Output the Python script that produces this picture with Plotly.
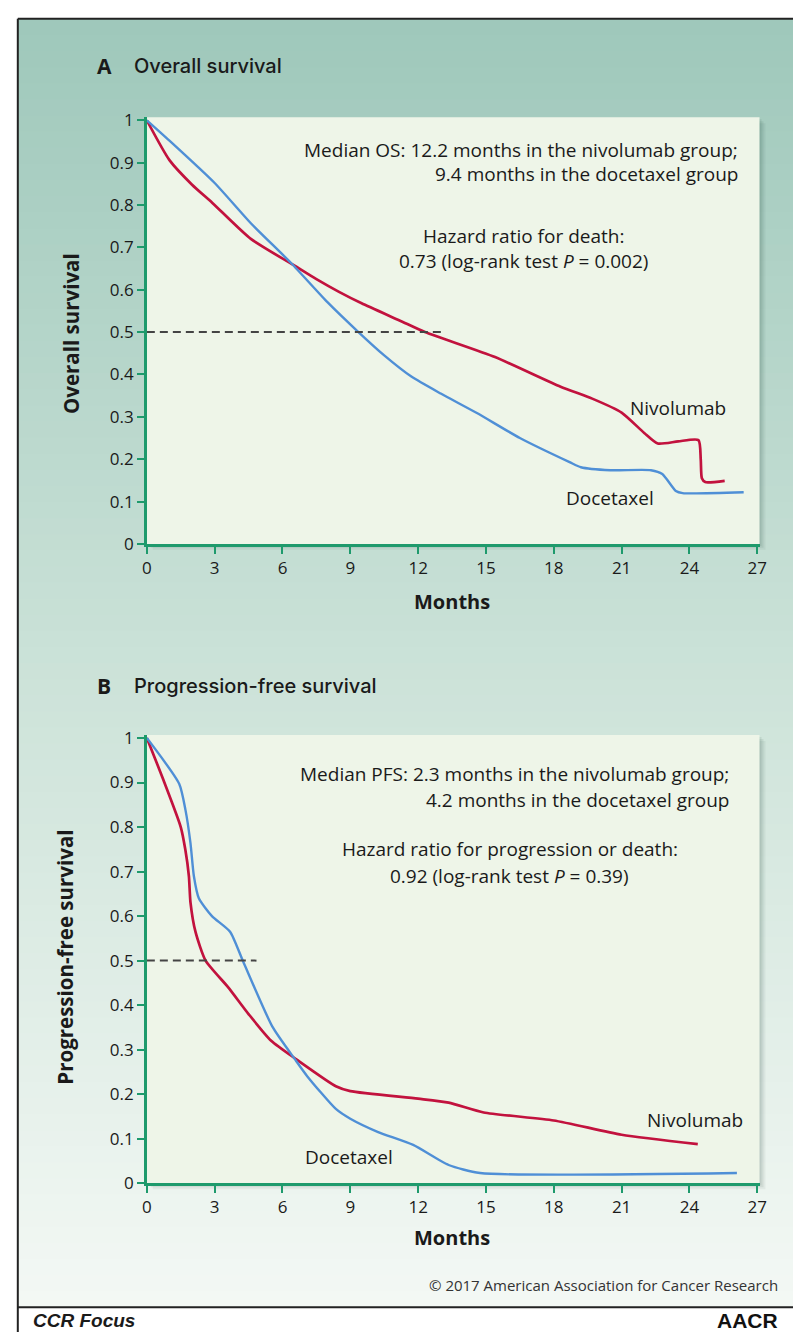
import plotly.graph_objects as go

# ---------------- data ----------------
os_niv_months = [0, 1.0, 2.0, 2.9, 4.6, 6.5, 7.5, 8.5, 9.5, 11.2, 12.3, 15.4, 18.3, 19.7, 21.0, 22.0, 22.6, 23.5, 24.4, 24.5, 24.55, 24.7, 25.56]
os_niv_surv = [1.0, 0.906, 0.848, 0.805, 0.72, 0.658, 0.625, 0.595, 0.568, 0.527, 0.50, 0.441, 0.371, 0.343, 0.31, 0.262, 0.237, 0.242, 0.245, 0.20, 0.155, 0.146, 0.149]

os_doc_months = [0, 1.0, 3.0, 4.6, 6.4, 8.0, 9.3, 10.5, 11.7, 13.0, 14.6, 16.5, 18.7, 19.2, 20.5, 22.3, 22.8, 23.4, 23.7, 26.4]
os_doc_surv = [1.0, 0.952, 0.852, 0.757, 0.662, 0.57, 0.503, 0.445, 0.395, 0.355, 0.309, 0.25, 0.193, 0.181, 0.174, 0.174, 0.165, 0.125, 0.12, 0.122]

pfs_niv_months = [0, 0.7, 1.5, 1.7, 1.86, 1.93, 2.15, 2.6, 3.6, 4.5, 5.5, 6.65, 8.36, 9.0, 12.0, 13.35, 14.9, 18.0, 21.0, 24.37]
pfs_niv_surv = [1.0, 0.91, 0.80, 0.75, 0.69, 0.631, 0.565, 0.50, 0.44, 0.38, 0.32, 0.277, 0.218, 0.207, 0.19, 0.181, 0.159, 0.141, 0.109, 0.088]

pfs_doc_months = [0, 1.43, 1.71, 1.93, 2.08, 2.3, 2.88, 3.68, 4.26, 5.56, 6.57, 7.1, 8.36, 9.0, 10.23, 11.78, 13.35, 14.74, 26.1]
pfs_doc_surv = [1.0, 0.897, 0.838, 0.764, 0.69, 0.64, 0.60, 0.565, 0.498, 0.351, 0.277, 0.24, 0.167, 0.145, 0.115, 0.086, 0.041, 0.023, 0.023]

os_median_x = [0, 13.1]
pfs_median_x = [0, 4.85]
median_y = [0.5, 0.5]

x_ticks = [0, 3, 6, 9, 12, 15, 18, 21, 24, 27]
y_ticks = [0, 0.1, 0.2, 0.3, 0.4, 0.5, 0.6, 0.7, 0.8, 0.9, 1.0]
y_tick_labels = ["0", "0.1", "0.2", "0.3", "0.4", "0.5", "0.6", "0.7", "0.8", "0.9", "1"]

# ---------------- styling ----------------
W, H = 800, 1343
RED = "#c2123e"
BLUE = "#4f8fd6"
GREEN = "#1e9a6c"
TXT = "#1a1a1a"
FONT = "Open Sans"


def px(x):
    return x / W


def py(y):
    return 1 - y / H


fig = go.Figure()

fig.add_trace(go.Scatter(x=os_niv_months, y=os_niv_surv, mode="lines",
                         line=dict(color=RED, width=2.7, shape="spline", smoothing=0.6),
                         xaxis="x", yaxis="y", hoverinfo="skip"))
fig.add_trace(go.Scatter(x=os_doc_months, y=os_doc_surv, mode="lines",
                         line=dict(color=BLUE, width=2.4, shape="spline", smoothing=0.6),
                         xaxis="x", yaxis="y", hoverinfo="skip"))
fig.add_trace(go.Scatter(x=os_median_x, y=median_y, mode="lines",
                         line=dict(color="#444", width=2, dash="8px,5px"),
                         xaxis="x", yaxis="y", hoverinfo="skip"))

fig.add_trace(go.Scatter(x=pfs_niv_months, y=pfs_niv_surv, mode="lines",
                         line=dict(color=RED, width=2.7, shape="spline", smoothing=0.6),
                         xaxis="x2", yaxis="y2", hoverinfo="skip"))
fig.add_trace(go.Scatter(x=pfs_doc_months, y=pfs_doc_surv, mode="lines",
                         line=dict(color=BLUE, width=2.4, shape="spline", smoothing=0.6),
                         xaxis="x2", yaxis="y2", hoverinfo="skip"))
fig.add_trace(go.Scatter(x=pfs_median_x, y=median_y, mode="lines",
                         line=dict(color="#444", width=2, dash="8px,5px"),
                         xaxis="x2", yaxis="y2", hoverinfo="skip"))

# ---------------- background shapes ----------------
shapes = []
top_c = (159, 200, 187)
mid_c = (203, 226, 216)
bot_c = (243, 248, 244)
y0, y1 = 10, 1318
n = 80
for i in range(n):
    t = i / (n - 1)
    if t < 0.5:
        u = t / 0.5
        c = [round(top_c[k] + (mid_c[k] - top_c[k]) * u) for k in range(3)]
    else:
        u = (t - 0.5) / 0.5
        c = [round(mid_c[k] + (bot_c[k] - mid_c[k]) * u) for k in range(3)]
    ya = y0 + (y1 - y0) * i / n
    yb = y0 + (y1 - y0) * (i + 1) / n + 0.8
    shapes.append(dict(type="rect", xref="paper", yref="paper", layer="below",
                       x0=px(13), x1=1.0, y0=py(min(yb, y1)), y1=py(ya),
                       fillcolor="rgb(%d,%d,%d)" % tuple(c), line=dict(width=0)))

plot_boxes = [(144, 110, 766, 543), (144, 737, 766, 1192)]
for (l, t, r, b) in plot_boxes:
    for off, a in [(6, 0.05), (4, 0.07), (2, 0.08)]:
        shapes.append(dict(type="rect", xref="paper", yref="paper", layer="below",
                           x0=px(l + off), x1=px(r + off), y0=py(b + off), y1=py(t + off),
                           fillcolor="rgba(0,40,30,%.2f)" % a, line=dict(width=0)))
    shapes.append(dict(type="rect", xref="paper", yref="paper", layer="below",
                       x0=px(l), x1=px(r), y0=py(b), y1=py(t),
                       fillcolor="#eef5e8", line=dict(width=0)))

# frame lines
for (xa, ya_, xb, yb_) in [(13, 10, 13, 1343), (13, 10, 800, 10), (13, 1318, 800, 1318)]:
    shapes.append(dict(type="line", xref="paper", yref="paper", layer="above",
                       x0=px(xa), x1=px(xb), y0=py(ya_), y1=py(yb_),
                       line=dict(color="#222", width=2)))

# ---------------- annotations ----------------
ann = []


def text(x, y, s, size=19, anchor="center", bold=False, weight=None, angle=0, italic=False, color=TXT, family=FONT):
    f = dict(family=family, size=size, color=color)
    if bold:
        f["weight"] = 700
    if weight:
        f["weight"] = weight
    if italic:
        f["style"] = "italic"
    ann.append(dict(x=px(x), y=py(y), xref="paper", yref="paper", text=s, showarrow=False,
                    xanchor=anchor, yanchor="middle", font=f, textangle=angle))


# panel titles
text(91, 58, "A", size=21, anchor="left", bold=True)
text(129, 58, "Overall survival", size=20, anchor="left", weight=500, family="Inter")
text(91, 687, "B", size=21, anchor="left", bold=True)
text(129, 687, "Progression-free survival", size=20, anchor="left", weight=500, family="Inter")

# panel A text
text(746, 143, "Median OS: 12.2 months in the nivolumab group;", anchor="right")
text(746, 168, "9.4 months in the docetaxel group", anchor="right")
text(526, 230, "Hazard ratio for death:")
text(526, 256, "0.73 (log-rank test <i>P</i> = 0.002)")
text(683, 405, "Nivolumab")
text(614, 496, "Docetaxel")

# panel B text
text(737, 777, "Median PFS: 2.3 months in the nivolumab group;", anchor="right")
text(737, 803, "4.2 months in the docetaxel group", anchor="right")
text(513, 853, "Hazard ratio for progression or death:")
text(512, 880, "0.92 (log-rank test <i>P</i> = 0.39)")
text(701, 1128, "Nivolumab")
text(349, 1165, "Docetaxel")

# axis titles
text(67, 329, "Overall survival", size=20.5, bold=True, angle=-90)
text(61, 963, "Progression-free survival", size=20.5, bold=True, angle=-90)
text(454, 601, "Months", size=20, bold=True)
text(454, 1247, "Months", size=20, bold=True)

# footer
text(787, 1295, "© 2017 American Association for Cancer Research", size=15, anchor="right", color="#333")
text(26, 1331, "CCR Focus", size=19, anchor="left", bold=True, italic=True, family="Liberation Sans")
text(787, 1331, "AACR", size=21, anchor="right", bold=True, family="Liberation Sans", color="#111")

axis_common = dict(showline=True, linecolor=GREEN, linewidth=2.5, ticks="outside", tickcolor=GREEN,
                   ticklen=7, tickwidth=2, showgrid=False, zeroline=False,
                   tickfont=dict(family=FONT, size=17, color=TXT), fixedrange=True)

fig.update_layout(
    width=W, height=H, margin=dict(l=0, r=0, t=0, b=0),
    paper_bgcolor="white", plot_bgcolor="rgba(0,0,0,0)",
    showlegend=False,
    xaxis=dict(domain=[px(144), px(766)], range=[0, 27.1], tickvals=x_ticks, anchor="y", **axis_common),
    yaxis=dict(domain=[py(543), py(110)], range=[0, (543 - 110) / 430], tickvals=y_ticks,
               ticktext=y_tick_labels, anchor="x", **axis_common),
    xaxis2=dict(domain=[px(144), px(766)], range=[0, 27.1], tickvals=x_ticks, anchor="y2", **axis_common),
    yaxis2=dict(domain=[py(1192), py(737)], range=[0, (1192 - 737) / 452], tickvals=y_ticks,
                ticktext=y_tick_labels, anchor="x2", **axis_common),
    shapes=shapes, annotations=ann,
)

post = (
    "document.documentElement.style.margin='0';document.documentElement.style.padding='0';"
    "document.documentElement.style.overflow='hidden';"
    "document.body.style.margin='0';document.body.style.padding='0';document.body.style.overflow='hidden';"
    "var d=document.getElementById('{plot_id}');d.style.position='absolute';d.style.left='0px';d.style.top='0px';"
)
fig.write_html("out.html", config={"displayModeBar": False}, post_script=post)
